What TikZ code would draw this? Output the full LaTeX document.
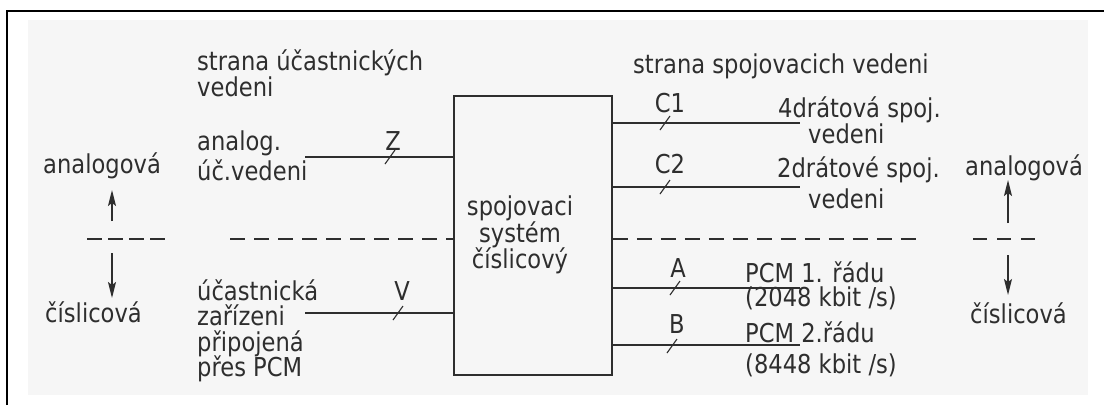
\documentclass[tikz,border=0pt]{standalone}
\usepackage{fontspec}
\setmainfont{DejaVu Sans}[FakeStretch=0.87]
\usetikzlibrary{arrows.meta}
\definecolor{ink}{HTML}{2E2E2E}
\definecolor{paper}{HTML}{F6F6F6}
\begin{document}
\begin{tikzpicture}[x=1pt,y=-1pt,
  txt/.style={inner sep=0pt, anchor=base west, text=ink, font=\fontsize{26}{27}\selectfont},
  lbl/.style={inner sep=0pt, anchor=base, text=ink, font=\fontsize{26}{27}\selectfont},
  wire/.style={draw=ink, line width=1.4pt},
  tickmark/.style={draw=ink, line width=1.1pt},
  sepline/.style={draw=ink, line width=1.4pt, dash pattern=on 15pt off 9pt},
  updown/.style={draw=ink, line width=1.5pt, -{Stealth[length=16pt,width=8pt,inset=3pt]}},
  frame/.style={draw=black, line width=2.2pt}]
\useasboundingbox (0,0) rectangle (1104,405);
\fill[white] (0,0) rectangle (1104,405);
\fill[paper] (28,20) rectangle (1088,395);
\draw[frame] (7,405) -- (7,11) -- (1104,11);

% central block
\node[draw=ink, line width=1.8pt, minimum width=158pt, minimum height=279pt, inner sep=0pt] (sys) at (533,235.5) {};
\node[lbl] (s1) at (520,215) {spojovaci};
\node[lbl] (s2) at (520,242) {systém};
\node[lbl] (s3) at (520,268) {číslicový};

% left texts
\node[txt] (hl1) at (197,70) {strana účastnických};
\node[txt] (hl2) at (197,96) {vedeni};
\node[txt] (an1) at (197,150) {analog.};
\node[txt] (an2) at (197,180) {úč.vedeni};
\node[txt] (ua1) at (197,300) {účastnická};
\node[txt] (ua2) at (197,325) {zařízeni};
\node[txt] (ua3) at (197,351) {připojená};
\node[txt] (ua4) at (197,376) {přes PCM};
\node[txt] (lan) at (43,173) {analogová};
\node[txt] (lci) at (45,322) {číslicová};
\node[lbl] (lz) at (393,150) {Z};
\node[lbl] (lv) at (402,300) {V};

% right texts
\node[txt] (hr) at (633,73) {strana spojovacich vedeni};
\node[lbl] (lc1) at (670,112) {C1};
\node[lbl] (lc2) at (670,173) {C2};
\node[lbl] (la) at (678,277) {A};
\node[lbl] (lb) at (677,333) {B};
\node[txt] (r1a) at (778,117) {4drátová spoj.};
\node[txt] (r1b) at (808,143) {vedeni};
\node[txt] (r2a) at (777,177) {2drátové spoj.};
\node[txt] (r2b) at (808,208) {vedeni};
\node[txt] (p1a) at (745,282) {PCM 1. řádu};
\node[txt] (p1b) at (745,306) {(2048 kbit /s)};
\node[txt] (p2a) at (745,342) {PCM 2.řádu};
\node[txt] (p2b) at (745,373) {(8448 kbit /s)};
\node[txt] (ran) at (965,175) {analogová};
\node[txt] (rci) at (970,323) {číslicová};

% left connectors
\coordinate (zs) at (305,157);
\coordinate (vs) at (305,313);
\draw[wire] (zs) -- (zs -| sys.west);
\draw[wire] (vs) -- (vs -| sys.west);
\draw[tickmark] (385,164) -- (395,150);
\draw[tickmark] (393,320) -- (403,306);

% right connectors
\coordinate (c1e) at (800,123);
\coordinate (c2e) at (800,187);
\coordinate (ae) at (800,288);
\coordinate (be) at (800,345);
\draw[wire] (sys.east |- c1e) -- (c1e);
\draw[wire] (sys.east |- c2e) -- (c2e);
\draw[wire] (sys.east |- ae) -- (ae);
\draw[wire] (sys.east |- be) -- (be);
\draw[tickmark] (660,130) -- (670,116);
\draw[tickmark] (660,194) -- (670,180);
\draw[tickmark] (670,295) -- (680,281);
\draw[tickmark] (667,353) -- (677,339);

% boundary analog / digital
\coordinate (d1a) at (87,239);
\coordinate (d1b) at (166,239);
\coordinate (d2a) at (230,239);
\coordinate (d3b) at (922,239);
\coordinate (d4a) at (973,239);
\coordinate (d4b) at (1036,239);
\draw[draw=ink, line width=1.4pt, dash pattern=on 15pt off 6pt] (d1a) -- (d1b);
\draw[sepline] (d2a) -- (d2a -| sys.west);
\draw[sepline] (sys.east |- d3b) -- (d3b);
\draw[draw=ink, line width=1.4pt, dash pattern=on 14pt off 10pt] (d4a) -- (d4b);

% arrows
\coordinate (lu0) at (112,221);
\coordinate (lu1) at (112,190);
\coordinate (ld0) at (112,253);
\coordinate (ld1) at (112,298);
\coordinate (ru0) at (1008,223);
\coordinate (ru1) at (1008,180);
\coordinate (rd0) at (1008,255);
\coordinate (rd1) at (1008,295);
\draw[updown] (lu0) -- (lu1);
\draw[updown] (ld0) -- (ld1);
\draw[updown] (ru0) -- (ru1);
\draw[updown] (rd0) -- (rd1);
\end{tikzpicture}
\end{document}
